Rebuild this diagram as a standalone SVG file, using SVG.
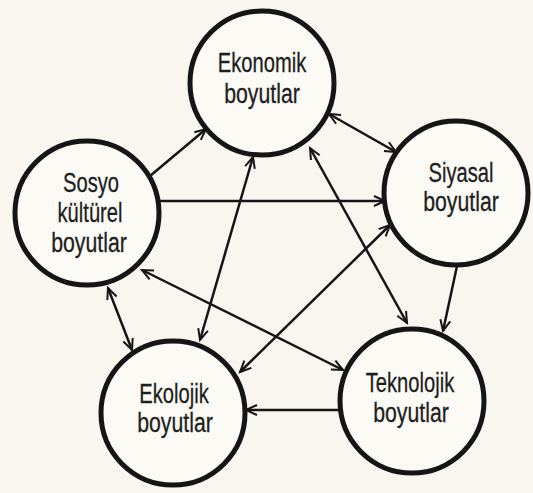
<svg xmlns="http://www.w3.org/2000/svg" width="533" height="493" viewBox="0 0 533 493">
<defs>
<style>
.node circle{fill:#fbfaf5;stroke:#151515;stroke-width:5}
.node text{font-family:"Liberation Sans",Arial,Helvetica,sans-serif;font-size:28px;fill:#1e1e1e;stroke:#1e1e1e;stroke-width:0.3;text-anchor:middle}
.conn line{stroke:#151515;stroke-width:2.5;fill:none}
</style>
<marker id="ah" markerUnits="userSpaceOnUse" markerWidth="16" markerHeight="16" viewBox="-12 -8 14 16" refX="0" refY="0" orient="auto-start-reverse">
<path d="M-11,-5 L0,0 L-11,5" fill="none" stroke="#151515" stroke-width="2"/>
</marker>
</defs>
<rect width="533" height="493" fill="#f8f6ef"/>
<g id="connectors" class="conn">
<line x1="150" y1="176" x2="206" y2="129" marker-end="url(#ah)"/>
<line x1="329" y1="114" x2="396" y2="152" marker-start="url(#ah)" marker-end="url(#ah)"/>
<line x1="159" y1="201" x2="385" y2="201" marker-end="url(#ah)"/>
<line x1="253" y1="157" x2="200" y2="340" marker-start="url(#ah)" marker-end="url(#ah)"/>
<line x1="310" y1="148" x2="407" y2="323" marker-start="url(#ah)" marker-end="url(#ah)"/>
<line x1="457" y1="266" x2="443" y2="331" marker-end="url(#ah)"/>
<line x1="340" y1="410" x2="246" y2="410" marker-end="url(#ah)"/>
<line x1="108" y1="288" x2="132" y2="350" marker-start="url(#ah)" marker-end="url(#ah)"/>
<line x1="142" y1="270" x2="343" y2="370" marker-start="url(#ah)" marker-end="url(#ah)"/>
<line x1="390" y1="225" x2="240" y2="372" marker-start="url(#ah)" marker-end="url(#ah)"/>
</g>
<g id="ekonomik" class="node">
<circle cx="262" cy="83" r="72"/>
<text transform="matrix(0.72 0 0 1 262 72)">Ekonomik</text>
<text transform="matrix(0.76 0 0 1 262 103)">boyutlar</text>
</g>
<g id="sosyo" class="node">
<circle cx="87" cy="213" r="72"/>
<text transform="matrix(0.72 0 0 1 91 192)">Sosyo</text>
<text transform="matrix(0.72 0 0 1 90 222)">kültürel</text>
<text transform="matrix(0.76 0 0 1 89 252)">boyutlar</text>
</g>
<g id="siyasal" class="node">
<circle cx="456" cy="193" r="72"/>
<text transform="matrix(0.72 0 0 1 461 182)">Siyasal</text>
<text transform="matrix(0.76 0 0 1 461 211)">boyutlar</text>
</g>
<g id="ekolojik" class="node">
<circle cx="173" cy="413" r="72"/>
<text transform="matrix(0.72 0 0 1 174 403)">Ekolojik</text>
<text transform="matrix(0.76 0 0 1 175 432)">boyutlar</text>
</g>
<g id="teknolojik" class="node">
<circle cx="412" cy="401" r="72"/>
<text transform="matrix(0.72 0 0 1 410 392)">Teknolojik</text>
<text transform="matrix(0.76 0 0 1 411 422)">boyutlar</text>
</g>
</svg>
